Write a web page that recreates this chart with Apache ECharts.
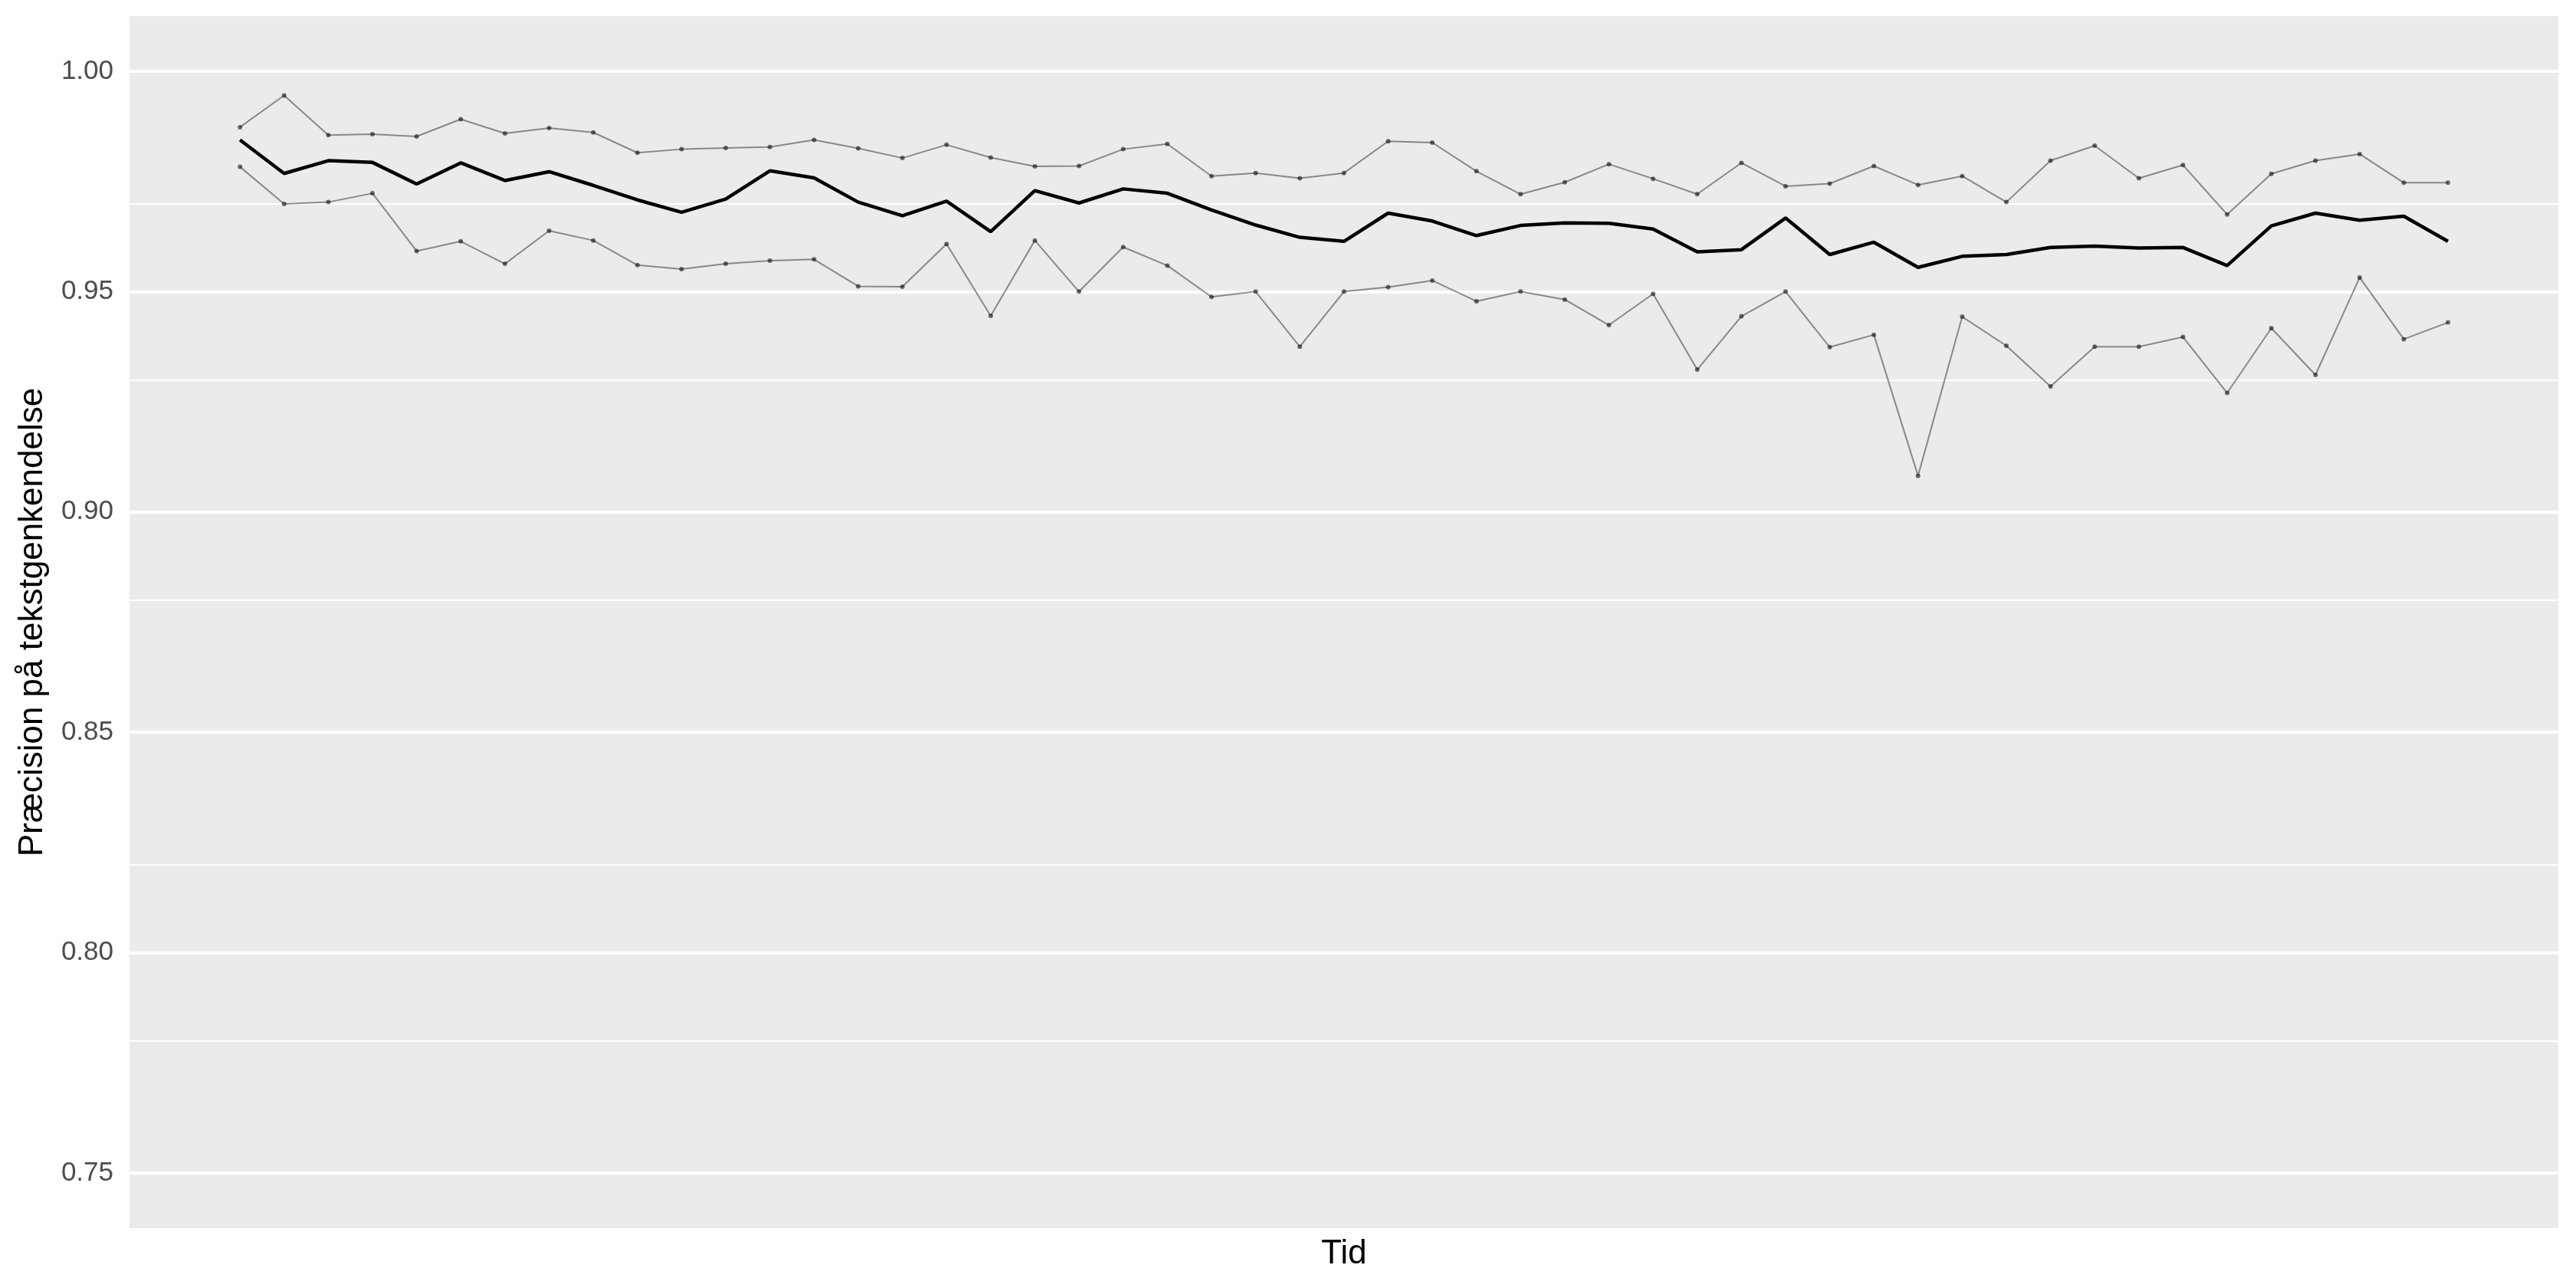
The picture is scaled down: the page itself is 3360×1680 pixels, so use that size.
<!DOCTYPE html>
<html><head><meta charset="utf-8">
<script src="https://cdn.jsdelivr.net/npm/echarts@6/dist/echarts.min.js"></script>
<style>html,body{margin:0;padding:0;background:#fff}#c{width:3360px;height:1680px}</style>
</head><body><div id="c"></div>
<script>
// Data (51 time steps)
const upper = [0.9873,0.9945,0.9855,0.9857,0.9852,0.9891,0.9859,0.9871,0.9861,0.9815,0.9823,0.9826,0.9828,
  0.9844,0.9825,0.9803,0.9833,0.9804,0.9784,0.9785,0.9823,0.9835,0.9762,0.9769,0.9757,
  0.9769,0.9841,0.9838,0.9773,0.9721,0.9748,0.9789,0.9756,0.9721,0.9792,0.9739,0.9745,0.9785,
  0.9742,0.9762,0.9703,0.9797,0.9831,0.9757,0.9787,0.9675,0.9767,0.9797,0.9812,0.9747,0.9747];
const mean = [0.9844,0.9768,0.9797,0.9793,0.9744,0.9792,0.9752,0.9772,0.9741,0.9708,0.9680,0.9710,0.9774,
  0.9758,0.9703,0.9672,0.9705,0.9636,0.9729,0.9701,0.9733,0.9723,0.9685,0.9651,0.9623,
  0.9614,0.9678,0.9660,0.9627,0.9650,0.9656,0.9655,0.9642,0.9590,0.9595,0.9667,0.9584,0.9612,
  0.9555,0.9580,0.9584,0.9600,0.9603,0.9599,0.9600,0.9559,0.9649,0.9678,0.9662,0.9671,0.9614];
const lower = [0.9783,0.9699,0.9703,0.9723,0.9592,0.9614,0.9563,0.9638,0.9616,0.9560,0.9551,0.9563,0.9570,
  0.9573,0.9512,0.9511,0.9608,0.9445,0.9616,0.9500,0.9601,0.9559,0.9488,0.9500,0.9375,
  0.9500,0.9510,0.9525,0.9478,0.9500,0.9482,0.9424,0.9495,0.9323,0.9444,0.9500,0.9374,0.9402,
  0.9082,0.9443,0.9377,0.9285,0.9375,0.9375,0.9397,0.9270,0.9417,0.9311,0.9532,0.9392,0.9430];
const yTicks = [0.75, 0.80, 0.85, 0.90, 0.95, 1.00];
const yMinor = [0.775, 0.825, 0.875, 0.925, 0.975];
const yLimits = [0.75, 1.00];
const xLabel = 'Tid';
const yLabel = 'Præcision på tekstgenkendelse';

const n = mean.length;
const timeIdx = mean.map((_, i) => i);
const pairs = arr => arr.map((v, i) => [timeIdx[i], v]);
const yr = yLimits[1] - yLimits[0];
const xr = n - 1;

const FONT = '"Liberation Sans", Arial, Helvetica, sans-serif';
const chart = echarts.init(document.getElementById('c'), null, {renderer: 'canvas'});
const gridLineSeries = (vals, w, name) => ({
  name, type: 'line', data: [], z: 1, silent: true, animation: false,
  markLine: {
    z: 1, silent: true, animation: false, symbol: ['none', 'none'],
    label: {show: false}, emphasis: {disabled: true},
    lineStyle: {color: '#FFFFFF', width: w, type: 'solid', opacity: 1},
    data: vals.map(v => ({yAxis: v}))
  }
});
const thin = (name, arr) => ({
  name, type: 'line', data: pairs(arr), z: 3, animation: false, silent: true,
  symbol: 'circle', symbolSize: 6, showAllSymbol: true,
  lineStyle: {color: 'rgba(0,0,0,0.42)', width: 2},
  itemStyle: {color: 'rgba(0,0,0,0.55)'}
});
chart.setOption({
  backgroundColor: '#FFFFFF',
  animation: false,
  textStyle: {fontFamily: FONT},
  grid: {left: 169, right: 23, top: 21, bottom: 78, show: true, backgroundColor: '#EBEBEB', borderWidth: 0, containLabel: false},
  xAxis: {
    type: 'value', min: -0.05 * xr, max: xr * 1.05,
    axisLine: {show: false}, axisTick: {show: false}, axisLabel: {show: false}, splitLine: {show: false},
    name: xLabel, nameLocation: 'middle', nameGap: 12,
    nameTextStyle: {fontSize: 44, color: '#000000', fontFamily: FONT, verticalAlign: 'top'}
  },
  yAxis: {
    type: 'value', min: yLimits[0] - 0.05 * yr, max: yLimits[1] + 0.05 * yr,
    axisLine: {show: false},
    axisTick: {show: true, customValues: yTicks, length: 11, lineStyle: {color: '#333333', width: 2.5}},
    axisLabel: {show: true, customValues: yTicks, margin: 21, fontSize: 35, color: '#4D4D4D', fontFamily: FONT,
      formatter: v => Number(v).toFixed(2)},
    splitLine: {show: false},
    name: yLabel, nameLocation: 'middle', nameRotate: 90, nameGap: 104,
    nameTextStyle: {fontSize: 44, color: '#000000', fontFamily: FONT}
  },
  series: [
    gridLineSeries(yMinor, 2, 'minor'),
    gridLineSeries(yTicks, 4, 'major'),
    thin('upper', upper),
    thin('lower', lower),
    {name: 'mean', type: 'line', data: pairs(mean), z: 4, animation: false, silent: true,
     symbol: 'none', lineStyle: {color: '#000000', width: 4.5}}
  ]
});
</script></body></html>
